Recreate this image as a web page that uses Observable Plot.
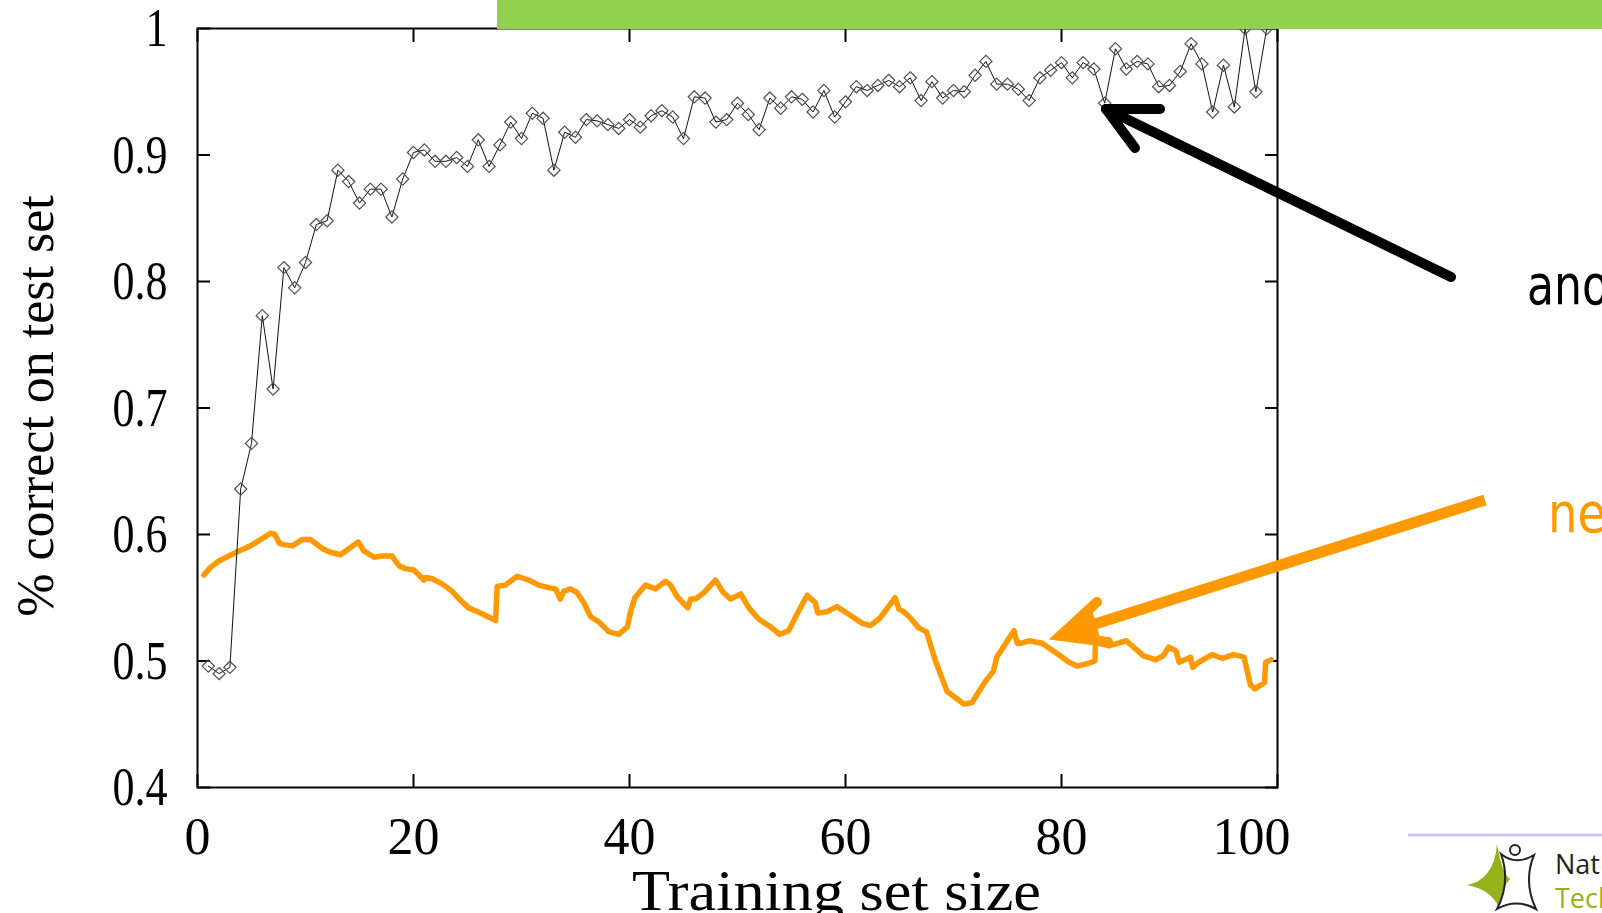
<!DOCTYPE html>
<html>
<head>
<meta charset="utf-8">
<script src="https://cdn.jsdelivr.net/npm/d3@7"></script>
<script src="https://cdn.jsdelivr.net/npm/@observablehq/plot@0.6"></script>
<style>
html, body { margin: 0; padding: 0; background: #fff; overflow: hidden; }
#wrap { position: relative; width: 1602px; height: 913px; }
#overlay { position: absolute; left: 0; top: 0; }
</style>
</head>
<body>
<div id="wrap"><div id="chart"></div>
<svg id="overlay" width="1602" height="913" viewBox="0 0 1602 913"></svg>
</div>
<script>
// ---- data ----
const blackSize = [1,2,3,4,5,6,7,8,9,10,11,12,13,14,15,16,17,18,19,20,21,22,23,24,25,26,27,28,29,30,31,32,33,34,35,36,37,38,39,40,41,42,43,44,45,46,47,48,49,50,51,52,53,54,55,56,57,58,59,60,61,62,63,64,65,66,67,68,69,70,71,72,73,74,75,76,77,78,79,80,81,82,83,84,85,86,87,88,89,90,91,92,93,94,95,96,97,98,99];
const blackAcc = [0.496,0.490,0.495,0.636,0.672,0.773,0.715,0.811,0.795,0.815,0.845,0.848,0.888,0.879,0.862,0.873,0.873,0.851,0.881,0.902,0.904,0.895,0.895,0.898,0.891,0.912,0.891,0.908,0.926,0.913,0.933,0.929,0.888,0.918,0.914,0.928,0.927,0.924,0.921,0.928,0.922,0.931,0.935,0.930,0.913,0.946,0.945,0.926,0.928,0.941,0.932,0.920,0.945,0.937,0.946,0.944,0.934,0.951,0.930,0.942,0.954,0.951,0.955,0.959,0.954,0.961,0.943,0.958,0.945,0.951,0.950,0.963,0.974,0.956,0.956,0.952,0.943,0.961,0.967,0.973,0.961,0.973,0.968,0.941,0.984,0.968,0.974,0.972,0.954,0.955,0.966,0.988,0.972,0.934,0.971,0.938,1.000,0.950,1.000];

const orangeSize = [0.59,1.2,1.98,2.9,3.83,4.9,5.83,6.76,7.16,7.59,7.99,8.77,9.69,10.46,11.54,12.3,13.24,14.88,15.4,16.33,17.1,18.02,18.33,18.7,19.26,20.03,20.96,21.1,21.73,22.65,23.58,24.35,25.1,26.2,27.6,27.75,28.5,29.6,30.68,31.6,32.5,33.15,33.6,33.9,34.54,35.15,35.77,36.4,37.16,38.1,39.0,39.8,40.1,40.5,41.48,42.4,43.33,43.8,44.4,45.4,45.65,46.1,46.88,47.96,48.6,49.35,50.3,51.05,51.97,53.06,53.9,54.75,55.5,56.45,57.2,57.43,58.3,59.2,60.3,61.5,62.3,63.2,64.6,64.94,65.4,66.0,66.8,67.5,68.33,69.4,70.96,71.7,72.96,73.7,74.0,75.6,75.9,76.2,76.97,78.2,79.75,80.7,81.45,82.4,83.1,83.15,84.4,86.0,87.6,88.7,89.4,89.93,90.6,90.9,91.94,92.15,92.7,93.95,94.9,95.96,96.9,97.5,97.9,98.8,98.9,99.4];
const orangeAcc = [0.568,0.574,0.579,0.583,0.587,0.591,0.596,0.601,0.600,0.593,0.592,0.591,0.596,0.596,0.589,0.586,0.584,0.594,0.587,0.582,0.583,0.583,0.579,0.575,0.573,0.572,0.564,0.566,0.565,0.561,0.555,0.548,0.542,0.538,0.532,0.559,0.560,0.567,0.564,0.560,0.558,0.557,0.549,0.555,0.557,0.554,0.546,0.535,0.531,0.523,0.521,0.527,0.539,0.550,0.560,0.557,0.563,0.560,0.551,0.542,0.549,0.549,0.554,0.564,0.555,0.549,0.553,0.542,0.533,0.527,0.521,0.524,0.537,0.552,0.546,0.538,0.539,0.543,0.537,0.530,0.528,0.534,0.550,0.541,0.539,0.534,0.526,0.523,0.500,0.476,0.466,0.467,0.484,0.492,0.503,0.524,0.514,0.514,0.516,0.514,0.505,0.499,0.496,0.498,0.500,0.515,0.512,0.516,0.504,0.501,0.504,0.511,0.508,0.499,0.503,0.495,0.499,0.505,0.502,0.505,0.503,0.481,0.478,0.483,0.499,0.501];

const xTicks = [0, 20, 40, 60, 80, 100];
const xTickLabels = ["0", "20", "40", "60", "80", "100"];
const yTicks = [0.4, 0.5, 0.6, 0.7, 0.8, 0.9, 1.0];
const yTickLabels = ["0.4", "0.5", "0.6", "0.7", "0.8", "0.9", "1"];
const xTitle = "Training set size";
const yTitle = "% correct on test set";
const calloutAno = "ano";
const calloutNe = "ne";
const logoLine1 = "Natu";
const logoLine2 = "Tech";

// ---- chart ----
const black = blackSize.map((x, i) => ({x, y: blackAcc[i]}));
const orange = orangeSize.map((x, i) => ({x, y: orangeAcc[i]}));
const serif = "'Liberation Serif', 'Times New Roman', serif";
const xLabelTicks = xTicks.slice(0, -1);
const lastX = xTicks[xTicks.length - 1];

const plot = Plot.plot({
  width: 1602,
  height: 913,
  marginLeft: 197,
  marginRight: 325,
  marginTop: 28,
  marginBottom: 126,
  style: {fontFamily: serif, fontSize: "48px", color: "#000", background: "transparent", overflow: "visible"},
  x: {domain: [0, 100]},
  y: {domain: [0.4, 1]},
  marks: [
    Plot.frame({stroke: "#000", strokeWidth: 2}),
    // inward (mirrored) ticks on all four sides
    Plot.axisX({anchor: "bottom", ticks: xTicks, tickSize: -13, tickFormat: () => "", label: null, strokeWidth: 2}),
    Plot.axisX({anchor: "top", ticks: xTicks, tickSize: -13, tickFormat: () => "", label: null, strokeWidth: 2}),
    Plot.axisY({anchor: "left", ticks: yTicks, tickSize: -13, tickFormat: () => "", label: null, strokeWidth: 2}),
    Plot.axisY({anchor: "right", ticks: yTicks, tickSize: -13, tickFormat: () => "", label: null, strokeWidth: 2}),
    // tick labels
    Plot.axisX({anchor: "bottom", ticks: xLabelTicks, tickSize: 0, tickPadding: 30, tickFormat: d => xTickLabels[xTicks.indexOf(d)], label: null, fontSize: 52}),
    Plot.text([lastX], {x: d => d, frameAnchor: "bottom", dx: -26, dy: 30, lineAnchor: "top", text: d => xTickLabels[xTicks.indexOf(d)], fontSize: 52}),
    Plot.axisY({anchor: "left", ticks: yTicks, tickSize: 0, tickPadding: 30, tickFormat: d => yTickLabels[yTicks.findIndex(t => Math.abs(t - d) < 1e-9)], label: null, fontSize: 44}),
    // axis titles
    Plot.text([xTitle], {frameAnchor: "bottom", dx: 99, dy: 105, text: d => d, fontSize: 56, lineAnchor: "middle", textAnchor: "middle"}),
    Plot.text([yTitle], {frameAnchor: "left", dx: -161, dy: -2, text: d => d, fontSize: 52, rotate: -90, lineAnchor: "middle", textAnchor: "middle"}),
    // series
    Plot.line(orange, {x: "x", y: "y", stroke: "#FF9900", strokeWidth: 5.5, strokeLinejoin: "round", strokeLinecap: "round"}),
    Plot.line(black, {x: "x", y: "y", stroke: "#111", strokeWidth: 1}),
    Plot.dot(black, {x: "x", y: "y", symbol: "diamond2", r: 5.5, stroke: "#505050", strokeWidth: 1.2, fill: "none"})
  ]
});
// the reference's axis texts are stretched: y tick labels taller, x title wider
d3.select(plot).selectAll('g[aria-label="y-axis tick label"] text').each(function() {
  const t = this.getAttribute("transform");
  if (t) this.setAttribute("transform", t + " scale(1,1.25)");
});
d3.select(plot).selectAll("text").filter(function() { return this.textContent === xTitle; })
  .attr("textLength", 409).attr("lengthAdjust", "spacingAndGlyphs");
document.getElementById("chart").appendChild(plot);

// ---- slide decorations (overlay) ----
const ov = d3.select("#overlay");
// green title banner (cut off at top)
ov.append("rect").attr("x", 497).attr("y", 0).attr("width", 1105).attr("height", 29).attr("fill", "#92D050");
// black arrow
const bArrow = ov.append("g").attr("stroke", "#000").attr("stroke-width", 10).attr("stroke-linecap", "round").attr("fill", "none");
bArrow.append("line").attr("x1", 1451).attr("y1", 277).attr("x2", 1106).attr("y2", 109);
bArrow.append("polyline").attr("points", "1160,109 1106,109 1135,148").attr("stroke-linejoin", "round");
// orange arrow
const oArrow = ov.append("g").attr("stroke", "#FF9900").attr("fill", "none");
oArrow.append("line").attr("x1", 1485).attr("y1", 500).attr("x2", 1070).attr("y2", 632).attr("stroke-width", 11);
oArrow.append("polyline").attr("points", "1097,602 1060,636 1108,642").attr("stroke-width", 10).attr("stroke-linecap", "round").attr("stroke-linejoin", "miter");
ov.append("polygon").attr("points", "1058,637 1092,610 1100,638").attr("fill", "#FF9900");
// callout words
ov.append("text").attr("x", 1527).attr("y", 304).attr("font-family", "'DejaVu Sans', Verdana, sans-serif").attr("font-size", 56)
  .attr("textLength", 82).attr("lengthAdjust", "spacingAndGlyphs").attr("fill", "#000").text(calloutAno);
ov.append("text").attr("x", 1548).attr("y", 532).attr("font-family", "'DejaVu Sans', Verdana, sans-serif").attr("font-size", 56)
  .attr("textLength", 58).attr("lengthAdjust", "spacingAndGlyphs").attr("fill", "#FF9900").text(calloutNe);
// footer line and logo
ov.append("line").attr("x1", 1408).attr("y1", 835).attr("x2", 1602).attr("y2", 835).attr("stroke", "#C8C8F8").attr("stroke-width", 3);
ov.append("path").attr("d", "M1467,885 Q1494,880 1497,844 Q1502,874 1510,879 Q1502,887 1499,908 Q1492,890 1467,885 Z").attr("fill", "#94B21C");
ov.append("circle").attr("cx", 1515).attr("cy", 850).attr("r", 5).attr("fill", "none").attr("stroke", "#222").attr("stroke-width", 2);
ov.append("path").attr("d", "M1501,854 Q1516,866 1534,855 Q1523,882 1536,909 Q1516,898 1497,909 Q1511,882 1501,854 Z").attr("fill", "none").attr("stroke", "#222").attr("stroke-width", 2);
ov.append("text").attr("x", 1555).attr("y", 874).attr("font-family", "'Open Sans', 'DejaVu Sans', sans-serif").attr("font-size", 27).attr("fill", "#222").text(logoLine1);
ov.append("text").attr("x", 1555).attr("y", 908).attr("font-family", "'Open Sans', 'DejaVu Sans', sans-serif").attr("font-size", 27).attr("fill", "#94B21C").text(logoLine2);
</script>
</body>
</html>
